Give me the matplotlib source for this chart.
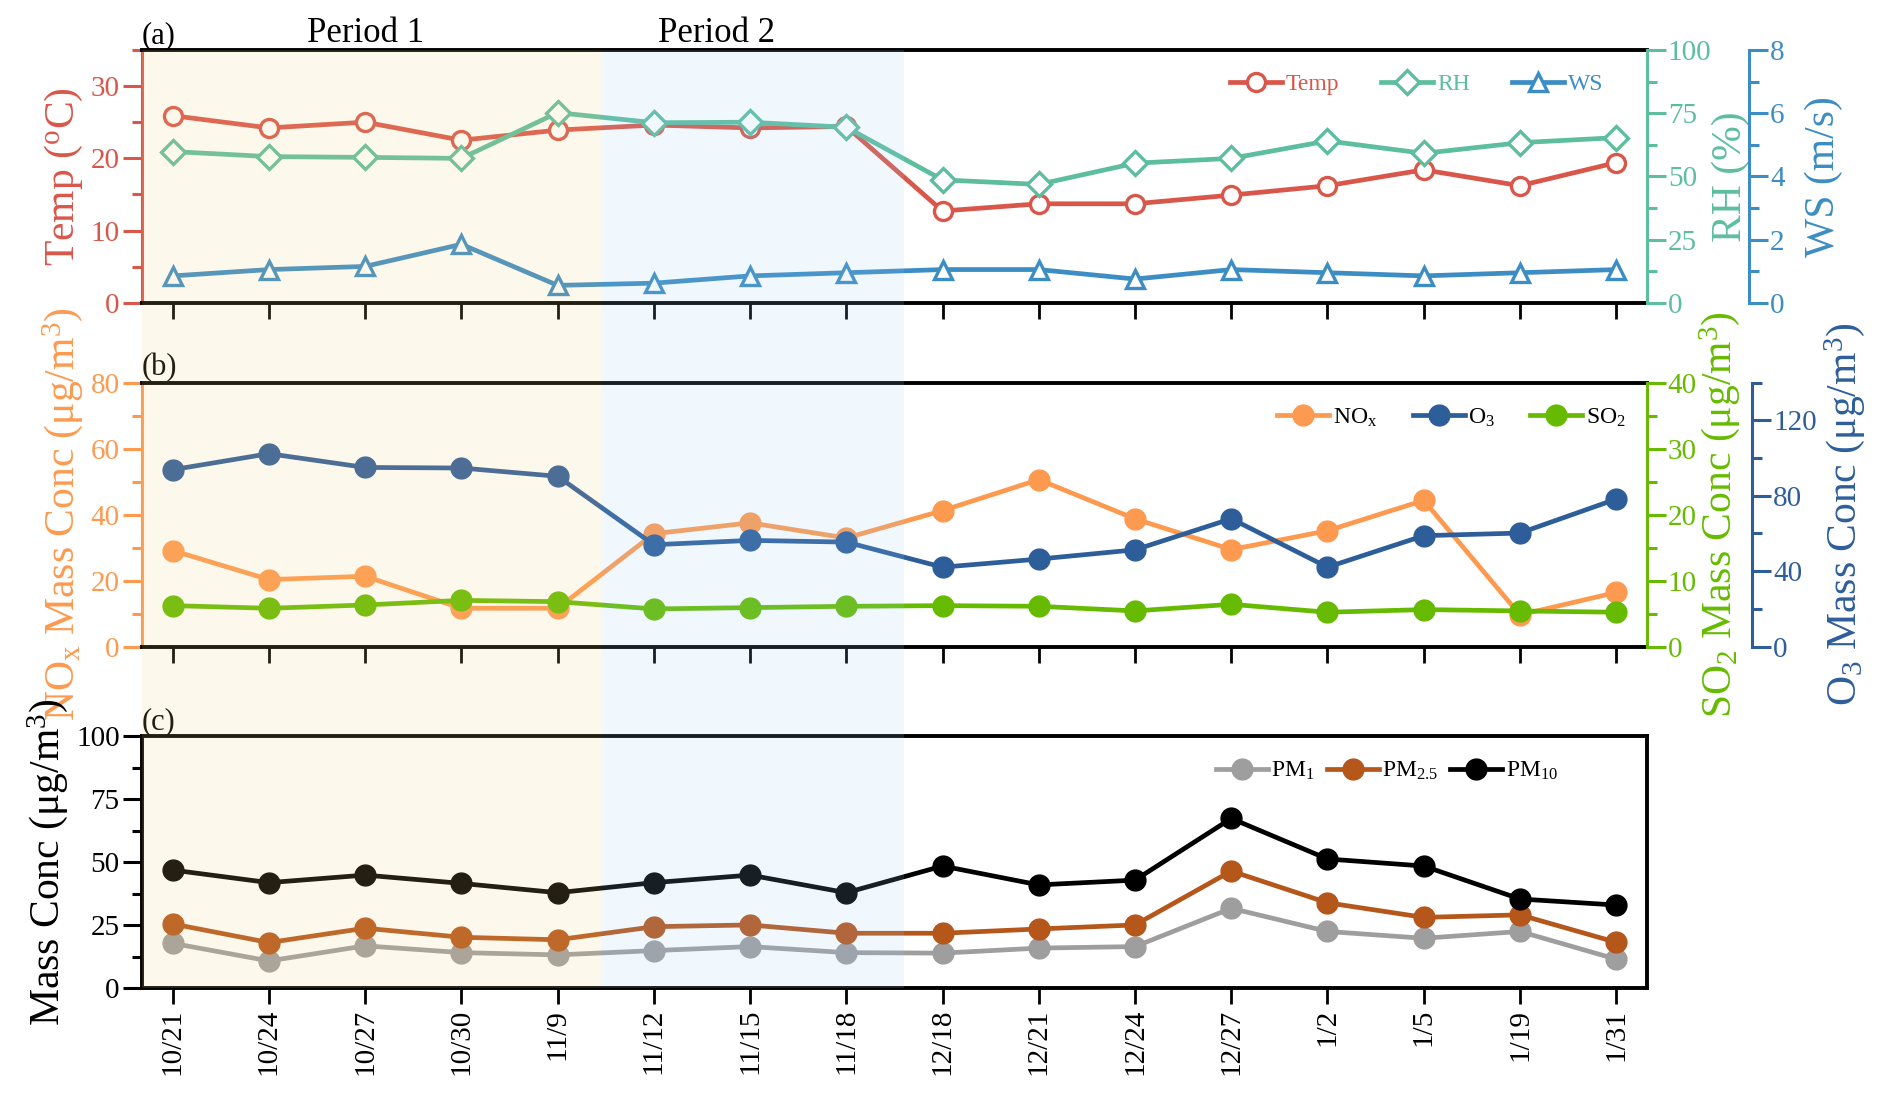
import matplotlib
matplotlib.use('Agg')
import matplotlib.pyplot as plt
from matplotlib.patches import Rectangle
from matplotlib.ticker import MultipleLocator
from matplotlib.transforms import blended_transform_factory

plt.rcParams['font.family'] = ['Liberation Serif', 'DejaVu Serif']
plt.rcParams['mathtext.fontset'] = 'custom'
plt.rcParams['mathtext.rm'] = 'Liberation Serif'
plt.rcParams['mathtext.it'] = 'Liberation Serif:italic'

dates = ['10/21', '10/24', '10/27', '10/30', '11/9', '11/12', '11/15', '11/18',
         '12/18', '12/21', '12/24', '12/27', '1/2', '1/5', '1/19', '1/31']

# panel (a) meteorology
temp = [25.9, 24.2, 25.0, 22.5, 23.9, 24.6, 24.2, 24.4, 12.7, 13.7, 13.7, 14.9, 16.2, 18.4, 16.2, 19.4]
rh = [59.8, 57.8, 57.5, 57.1, 75.2, 71.2, 71.4, 69.4, 48.6, 46.8, 55.2, 57.1, 64.0, 59.1, 63.3, 65.3]
ws = [0.85, 1.05, 1.15, 1.85, 0.55, 0.62, 0.85, 0.95, 1.05, 1.05, 0.75, 1.05, 0.95, 0.85, 0.95, 1.05]

# panel (b) gases
nox = [29.1, 20.3, 21.3, 11.6, 11.6, 34.2, 37.5, 32.9, 41.2, 50.6, 38.7, 29.4, 35.1, 44.3, 9.6, 16.4]
o3 = [93.8, 102.3, 95.0, 94.7, 90.3, 54.0, 56.3, 55.4, 42.1, 46.4, 51.3, 67.8, 42.1, 58.8, 60.2, 78.2]
so2 = [6.2, 5.8, 6.3, 7.0, 6.8, 5.7, 5.9, 6.1, 6.2, 6.1, 5.4, 6.4, 5.2, 5.6, 5.4, 5.2]

# panel (c) particulate matter
pm1 = [17.8, 10.8, 16.8, 14.1, 13.2, 14.9, 16.5, 14.1, 13.9, 15.9, 16.5, 31.7, 22.5, 19.8, 22.5, 11.5]
pm25 = [25.5, 18.1, 23.8, 20.2, 19.2, 24.4, 25.1, 21.8, 21.8, 23.5, 25.1, 46.5, 33.9, 28.1, 29.1, 18.2]
pm10 = [46.9, 41.9, 44.9, 41.6, 37.9, 41.9, 44.9, 37.9, 48.5, 41.0, 42.9, 67.4, 51.3, 48.5, 35.4, 33.0]

periods = [('Period 1', -0.32, 4.45, '#f8d080', 2.0), ('Period 2', 4.45, 7.6, '#9bcaf8', 5.65)]

C_TEMP, C_RH, C_WS = '#d9574a', '#5dbe9e', '#3c8dc4'
C_NOX, C_O3, C_SO2 = '#fd9a50', '#2e5e9a', '#66bb00'
C_PM1, C_PM25, C_PM10 = '#9e9e9e', '#b5561a', '#000000'

x = list(range(len(dates)))
TICK_FS = 21
LAB_FS = 30
SPW = 2.2
LW = 3.4

fig = plt.figure(figsize=(18.92, 11.09), dpi=100)
ax_a = fig.add_axes([0.075, 0.727, 0.7955, 0.228])
ax_b = fig.add_axes([0.075, 0.417, 0.7955, 0.238])
ax_c = fig.add_axes([0.075, 0.109, 0.7955, 0.227])


def style_host(ax, color, right_visible=False):
    for s in ['top', 'bottom']:
        ax.spines[s].set_linewidth(SPW + 0.6)
        ax.spines[s].set_color('black')
    ax.spines['left'].set_color(color)
    ax.spines['left'].set_linewidth(SPW)
    ax.spines['right'].set_visible(right_visible)
    ax.spines['right'].set_linewidth(SPW + 0.6)
    ax.tick_params(axis='y', colors=color, labelsize=TICK_FS, direction='out', length=14, width=SPW, pad=2)
    ax.tick_params(axis='y', which='minor', colors=color, direction='out', length=7, width=SPW)
    ax.tick_params(axis='x', direction='out', length=11.5, width=2, labelsize=TICK_FS)
    ax.set_xlim(-0.32, 15.32)
    ax.set_xticks(x)


def style_twin(ax, color, offset=None):
    for s in ['top', 'bottom', 'left']:
        ax.spines[s].set_visible(False)
    ax.spines['right'].set_color(color)
    ax.spines['right'].set_linewidth(SPW)
    if offset is not None:
        ax.spines['right'].set_position(('axes', offset))
    ax.tick_params(axis='y', colors=color, labelsize=TICK_FS, direction='out', length=14, width=SPW, pad=1)
    ax.tick_params(axis='y', which='minor', colors=color, direction='out', length=7, width=SPW)


# ---- panel (a)
ax_rh = ax_a.twinx()
ax_ws = ax_a.twinx()
style_host(ax_a, C_TEMP)
style_twin(ax_rh, C_RH)
style_twin(ax_ws, C_WS, offset=1.068)

l1, = ax_a.plot(x, temp, '-o', color=C_TEMP, lw=LW, ms=13, mfc='white', mew=2.4, label='Temp')
l2, = ax_rh.plot(x, rh, '-D', color=C_RH, lw=LW, ms=12, mfc='white', mew=2.4, label='RH')
l3, = ax_ws.plot(x, ws, '-^', color=C_WS, lw=LW, ms=13, mfc='white', mew=2.4, label='WS')
ax_a.set_ylim(0, 35)
ax_a.yaxis.set_major_locator(MultipleLocator(10))
ax_a.yaxis.set_minor_locator(MultipleLocator(5))
ax_rh.set_ylim(0, 100)
ax_rh.yaxis.set_major_locator(MultipleLocator(25))
ax_rh.yaxis.set_minor_locator(MultipleLocator(12.5))
ax_ws.set_ylim(0, 8)
ax_ws.yaxis.set_major_locator(MultipleLocator(2))
ax_ws.yaxis.set_minor_locator(MultipleLocator(1))
ax_a.set_ylabel(r'Temp ($^{\mathrm{o}}$C)', color=C_TEMP, fontsize=LAB_FS, labelpad=4)
ax_rh.set_ylabel('RH (%)', color=C_RH, fontsize=LAB_FS, rotation=90, labelpad=0)
ax_ws.set_ylabel('WS (m/s)', color=C_WS, fontsize=LAB_FS, rotation=90, labelpad=14)
ax_a.set_xticklabels([])
leg = ax_ws.legend(handles=[l1, l2, l3], loc='upper right', ncol=3, frameon=False,
                   fontsize=17, handlelength=2.2, columnspacing=1.8, handletextpad=0.15,
                   bbox_to_anchor=(0.985, 0.99))
for t, c in zip(leg.get_texts(), [C_TEMP, C_RH, C_WS]):
    t.set_color(c)

# ---- panel (b)
ax_so2 = ax_b.twinx()
ax_o3 = ax_b.twinx()
style_host(ax_b, C_NOX)
style_twin(ax_so2, C_SO2)
style_twin(ax_o3, C_O3, offset=1.07)

m1, = ax_b.plot(x, nox, '-o', color=C_NOX, lw=LW, ms=15, label=r'NO$_\mathrm{x}$')
m3, = ax_so2.plot(x, so2, '-o', color=C_SO2, lw=LW, ms=15, label=r'SO$_\mathrm{2}$')
m2, = ax_o3.plot(x, o3, '-o', color=C_O3, lw=LW, ms=15, label=r'O$_\mathrm{3}$')
ax_b.set_ylim(0, 80)
ax_b.yaxis.set_major_locator(MultipleLocator(20))
ax_b.yaxis.set_minor_locator(MultipleLocator(10))
ax_so2.set_ylim(0, 40)
ax_so2.yaxis.set_major_locator(MultipleLocator(10))
ax_so2.yaxis.set_minor_locator(MultipleLocator(5))
ax_o3.set_ylim(0, 140)
ax_o3.set_yticks([0, 40, 80, 120])
ax_o3.yaxis.set_minor_locator(MultipleLocator(20))
ax_b.set_ylabel(r'NO$_\mathrm{x}$ Mass Conc (μg/m$^3$)', color=C_NOX, fontsize=LAB_FS, labelpad=4)
ax_so2.set_ylabel(r'SO$_\mathrm{2}$ Mass Conc (μg/m$^3$)', color=C_SO2, fontsize=LAB_FS,
                  rotation=90, labelpad=0)
ax_o3.set_ylabel(r'O$_\mathrm{3}$ Mass Conc (μg/m$^3$)', color=C_O3, fontsize=LAB_FS,
                 rotation=90, labelpad=4)
ax_b.set_xticklabels([])
ax_o3.legend(handles=[m1, m2, m3], loc='upper right', ncol=3, frameon=False,
             fontsize=17, handlelength=2.2, columnspacing=1.5, handletextpad=0.15,
             bbox_to_anchor=(1.0, 0.99))

# ---- panel (c)
style_host(ax_c, 'black', right_visible=True)
ax_c.spines['left'].set_linewidth(SPW + 0.6)
for s in ['top', 'bottom', 'right']:
    ax_c.spines[s].set_color('black')
ax_c.plot(x, pm1, '-o', color=C_PM1, lw=LW, ms=15, label=r'PM$_\mathrm{1}$')
ax_c.plot(x, pm25, '-o', color=C_PM25, lw=LW, ms=15, label=r'PM$_\mathrm{2.5}$')
ax_c.plot(x, pm10, '-o', color=C_PM10, lw=LW, ms=15, label=r'PM$_\mathrm{10}$')
ax_c.set_ylim(0, 100)
ax_c.yaxis.set_major_locator(MultipleLocator(25))
ax_c.yaxis.set_minor_locator(MultipleLocator(12.5))
ax_c.set_ylabel(r'Mass Conc (μg/m$^3$)', fontsize=LAB_FS, labelpad=4)
ax_c.set_xticklabels(dates, rotation=90, fontsize=TICK_FS)
ax_c.legend(loc='upper right', ncol=3, frameon=False, fontsize=17, handlelength=2.2,
            columnspacing=0.5, handletextpad=0.15, bbox_to_anchor=(0.955, 0.99))

# panel letters
for ax, lab in [(ax_a, '(a)'), (ax_b, '(b)'), (ax_c, '(c)')]:
    ax.text(0.0, 1.0, lab, transform=ax.transAxes, fontsize=22, ha='left', va='bottom')

# period shading across all panels, drawn on top with light alpha
tr = blended_transform_factory(ax_c.transData, fig.transFigure)
tr_txt = blended_transform_factory(ax_a.transData, ax_a.transAxes)
for name, x0, x1, col, xc in periods:
    fig.patches.append(Rectangle((x0, 0.109), x1 - x0, 0.955 - 0.109, transform=tr,
                                 facecolor=col, edgecolor='none', alpha=0.15, zorder=20))
    ax_a.text(xc, 1.0, name, transform=tr_txt, fontsize=25, ha='center', va='bottom')

fig.savefig('out.png', dpi=100)
